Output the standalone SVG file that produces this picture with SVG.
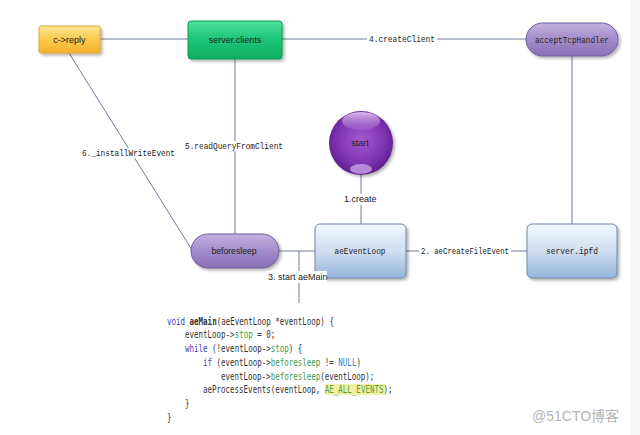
<svg xmlns="http://www.w3.org/2000/svg" width="640" height="435" viewBox="0 0 640 435">
<style>
.ln{stroke:#6f7f9c;stroke-width:1;fill:none}
.sans{font-family:"Liberation Sans",Arial,sans-serif;font-size:9px;fill:#222}
.mono{font-family:"Liberation Mono","Courier New",monospace;font-size:8.5px;fill:#222}
.lb{fill:#fff}
.code{font-family:"DejaVu Sans Mono","Liberation Mono",monospace;font-size:10px;fill:#333}
.kw{fill:#3b47a8}
.fld{fill:#3c9a4c}
.nul{fill:#4a78cc}
.cst{fill:#5f9a36}
</style>
<defs>
<linearGradient id="gOr" x1="0" y1="0" x2="0" y2="1"><stop offset="0" stop-color="#fde796"/><stop offset="0.5" stop-color="#fbc94a"/><stop offset="1" stop-color="#f4b02a"/></linearGradient>
<linearGradient id="gGr" x1="0" y1="0" x2="0" y2="1"><stop offset="0" stop-color="#4fe09c"/><stop offset="0.45" stop-color="#1fc779"/><stop offset="1" stop-color="#0fae62"/></linearGradient>
<linearGradient id="gPu" x1="0" y1="0" x2="0" y2="1"><stop offset="0" stop-color="#c2b2e0"/><stop offset="0.5" stop-color="#a28cca"/><stop offset="1" stop-color="#8870b6"/></linearGradient>
<linearGradient id="gBl" x1="0" y1="0" x2="0" y2="1"><stop offset="0" stop-color="#f2f6fc"/><stop offset="0.5" stop-color="#d0def0"/><stop offset="1" stop-color="#96b6dc"/></linearGradient>
<radialGradient id="gSp" cx="0.5" cy="0.45" r="0.55"><stop offset="0" stop-color="#a45ad0"/><stop offset="0.7" stop-color="#7d32b2"/><stop offset="1" stop-color="#5e1e8c"/></radialGradient>
<linearGradient id="gHi" x1="0" y1="0" x2="0" y2="1"><stop offset="0" stop-color="#e6ccf4" stop-opacity="0.9"/><stop offset="1" stop-color="#b07ad6" stop-opacity="0.3"/></linearGradient>
<filter id="sh" x="-20%" y="-20%" width="140%" height="150%"><feDropShadow dx="2" dy="2" stdDeviation="1.5" flood-color="#000" flood-opacity="0.3"/></filter>
</defs>
<rect width="640" height="435" fill="#fff"/>
<rect x="630" y="0" width="10" height="435" fill="#f6f6f9"/>

<g id="connectors">
<line class="ln" x1="100" y1="39" x2="188" y2="39"/>
<line class="ln" x1="282" y1="39" x2="526" y2="39"/>
<line class="ln" x1="572" y1="56" x2="572" y2="224"/>
<line class="ln" x1="406" y1="251" x2="527" y2="251"/>
<line class="ln" x1="361" y1="175" x2="361" y2="224"/>
<line class="ln" x1="235" y1="59" x2="235" y2="234"/>
<line class="ln" x1="69" y1="53" x2="192" y2="250"/>
<line class="ln" x1="279" y1="251" x2="315" y2="251"/>
<line class="ln" x1="299" y1="251" x2="299" y2="303"/>
</g>

<g id="c-reply">
<rect x="39" y="26" width="61" height="27" rx="2" fill="url(#gOr)" stroke="#e3a532" stroke-width="1" filter="url(#sh)"/>
<text class="sans" x="69.5" y="42.5" text-anchor="middle">c-&gt;reply</text>
</g>

<g id="server-clients">
<rect x="188" y="21" width="94" height="38" rx="3" fill="url(#gGr)" stroke="#0d9a57" stroke-width="1" filter="url(#sh)"/>
<text class="sans" x="235" y="42.5" text-anchor="middle">server.clients</text>
</g>

<g id="acceptTcpHandler">
<rect x="526" y="23" width="92" height="33" rx="16.5" fill="url(#gPu)" stroke="#6e5e9c" stroke-width="1" filter="url(#sh)"/>
<text class="mono" x="572" y="42.5" text-anchor="middle" textLength="74" lengthAdjust="spacingAndGlyphs">acceptTcpHandler</text>
</g>

<g id="start">
<circle cx="361" cy="143" r="32" fill="url(#gSp)" filter="url(#sh)"/>
<ellipse cx="361" cy="121" rx="19" ry="9" fill="url(#gHi)"/>
<ellipse cx="361" cy="169" rx="11" ry="5" fill="#c39be0" opacity="0.85"/>
<text class="sans" x="360" y="146" text-anchor="middle">start</text>
</g>

<g id="aeEventLoop">
<rect x="315" y="224" width="91" height="54" rx="5" fill="url(#gBl)" stroke="#6f86a8" stroke-width="1" filter="url(#sh)"/>
<text class="mono" x="360" y="254" text-anchor="middle" textLength="51" lengthAdjust="spacingAndGlyphs">aeEventLoop</text>
</g>

<g id="server-ipfd">
<rect x="527" y="224" width="90" height="54" rx="5" fill="url(#gBl)" stroke="#6f86a8" stroke-width="1" filter="url(#sh)"/>
<text class="mono" x="572" y="254" text-anchor="middle" textLength="52" lengthAdjust="spacingAndGlyphs">server.ipfd</text>
</g>

<g id="beforesleep">
<rect x="191" y="234" width="88" height="34" rx="17" fill="url(#gPu)" stroke="#6e5e9c" stroke-width="1" filter="url(#sh)"/>
<text class="sans" x="234" y="254" text-anchor="middle" textLength="45" lengthAdjust="spacingAndGlyphs">beforesleep</text>
</g>

<g id="connector-labels">
<rect class="lb" x="367" y="34" width="70" height="10"/>
<text class="mono" x="369" y="42" textLength="66" lengthAdjust="spacingAndGlyphs">4.createClient</text>
<rect class="lb" x="419" y="246" width="92" height="10"/>
<text class="mono" x="421" y="254" textLength="88" lengthAdjust="spacingAndGlyphs">2. aeCreateFileEvent</text>
<rect class="lb" x="342" y="194" width="36" height="11"/>
<text class="sans" x="344" y="202">1.create</text>
<rect class="lb" x="183" y="141" width="102" height="10"/>
<text class="mono" x="185" y="149" textLength="98" lengthAdjust="spacingAndGlyphs">5.readQueryFromClient</text>
<rect class="lb" x="80" y="148" width="97" height="10"/>
<text class="mono" x="82" y="156" textLength="93" lengthAdjust="spacingAndGlyphs">6._installWriteEvent</text>
<rect class="lb" x="266" y="271" width="61" height="12"/>
<text class="sans" x="268" y="280">3. start aeMain</text>
</g>

<g id="code">
<rect x="325" y="384" width="60" height="11" fill="#f1f1a6"/>
<g transform="scale(0.75,1)">
<text class="code" x="222.7" y="325"><tspan class="kw">void</tspan> <tspan font-weight="bold">aeMain</tspan>(aeEventLoop *eventLoop) {</text>
<text class="code" x="246.7" y="338">eventLoop-&gt;<tspan class="fld">stop</tspan> = 0;</text>
<text class="code" x="246.7" y="352"><tspan class="kw">while</tspan> (!eventLoop-&gt;<tspan class="fld">stop</tspan>) {</text>
<text class="code" x="270.7" y="366"><tspan class="kw">if</tspan> (eventLoop-&gt;<tspan class="fld">beforesleep</tspan> != <tspan class="nul">NULL</tspan>)</text>
<text class="code" x="294.7" y="380">eventLoop-&gt;<tspan class="fld">beforesleep</tspan>(eventLoop);</text>
<text class="code" x="270.7" y="393">aeProcessEvents(eventLoop, <tspan class="cst">AE_ALL_EVENTS</tspan>);</text>
<text class="code" x="246.7" y="407">}</text>
<text class="code" x="222.7" y="421">}</text>
</g>
</g>

<text x="532" y="421" font-family="'Liberation Sans','Noto Sans CJK SC',sans-serif" font-size="14" fill="#b4b4b4">@51CTO博客</text>
</svg>
